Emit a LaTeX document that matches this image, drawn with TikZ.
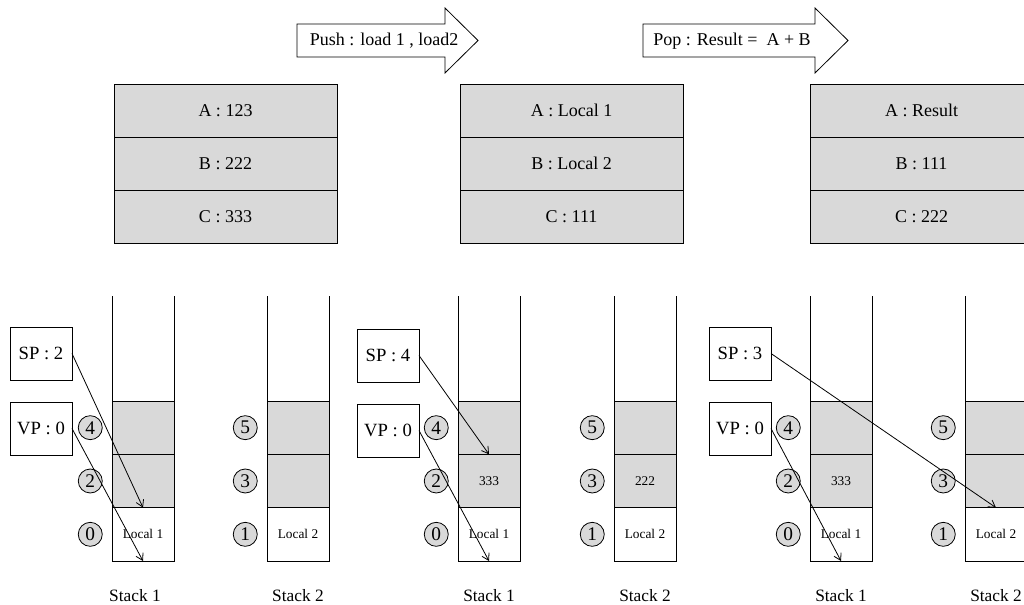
\documentclass[tikz,border=0pt]{standalone}
\usepackage{fontspec}
\setmainfont{Liberation Serif}
\usetikzlibrary{
    arrows.meta,
    positioning
}
\tikzset{
    % Colors
    cell color/.style={fill=black!15},
    %
    % Registers and stack slots
    register/.style={draw,cell color,minimum width=167.25pt,minimum height=39.75pt,
        inner sep=0pt,outer sep=0pt,font=\fontsize{13.5}{15}\selectfont},
    slot/.style={draw,cell color,minimum width=46.5pt,minimum height=40pt,
        inner sep=0pt,outer sep=0pt,font=\fontsize{10}{12}\selectfont},
    empty slot/.style={slot,fill=white},
    index/.style={circle,draw,cell color,minimum size=18pt,inner sep=0pt,
        font=\fontsize{14.5}{16}\selectfont},
    pointer/.style={draw,fill=white,minimum width=46.5pt,minimum height=39.75pt,
        inner sep=0pt,outer sep=0pt,font=\fontsize{14}{16}\selectfont},
    stack label/.style={font=\fontsize{13}{15}\selectfont},
    %
    % Arrows
    arrow tip/.tip={Straight Barb[length=5pt,width=6pt]},
    arr/.style={->,>={arrow tip}},
    op arrow/.style={draw,fill=white},
    op text/.style={font=\fontsize{13.5}{15}\selectfont}
}

\begin{document}
\begin{tikzpicture}[x=0.75pt,y=-0.75pt,line width=0.6pt]
    \useasboundingbox (0,0) rectangle (1024,605);
    \clip (0,0) rectangle (1024,605);

    % operations
    \draw[op arrow] (297,24) -- (445,24) -- (445,8) -- (478,40.5) -- (445,73) -- (445,57) -- (297,57) -- cycle;
    \node[op text] (push) at (384,41) {Push : load 1 , load2};
    \draw[op arrow] (643,24) -- (815,24) -- (815,8) -- (848,40.5) -- (815,73) -- (815,57) -- (643,57) -- cycle;
    \node[op text] (pop) at (732,41) {Pop : Result =~ A + B};

    % registers
    \node[register,anchor=north west] (p1A) at (114,84) {A : 123};
    \node[register,below=0pt of p1A] (p1B) {B : 222};
    \node[register,below=0pt of p1B] (p1C) {C : 333};
    \node[register,anchor=north west] (p2A) at (460,84) {A : Local 1};
    \node[register,below=0pt of p2A] (p2B) {B : Local 2};
    \node[register,below=0pt of p2B] (p2C) {C : 111};
    \node[register,anchor=north west] (p3A) at (810,84) {A : Result};
    \node[register,below=0pt of p3A] (p3B) {B : 111};
    \node[register,below=0pt of p3B] (p3C) {C : 222};

    % stacks, first state
    \node[slot,anchor=north west] (p1s1top) at (112,401) {};
    \node[slot,below=0pt of p1s1top] (p1s1mid) {};
    \node[empty slot,below=0pt of p1s1mid] (p1s1bot) {Local 1};
    \draw (p1s1top.north west) -- +(0,-105) (p1s1top.north east) -- +(0,-105);
    \node[index,left=7pt of p1s1top] (p1i4) {4};
    \node[index,left=7pt of p1s1mid] (p1i2) {2};
    \node[index,left=7pt of p1s1bot] (p1i0) {0};
    \node[stack label,below=18pt of p1s1bot,xshift=-6pt] (p1l1) {Stack 1};

    \node[slot,anchor=north west] (p1s2top) at (267,401) {};
    \node[slot,below=0pt of p1s2top] (p1s2mid) {};
    \node[empty slot,below=0pt of p1s2mid] (p1s2bot) {Local 2};
    \draw (p1s2top.north west) -- +(0,-105) (p1s2top.north east) -- +(0,-105);
    \node[index,left=7pt of p1s2top] (p1i5) {5};
    \node[index,left=7pt of p1s2mid] (p1i3) {3};
    \node[index,left=7pt of p1s2bot] (p1i1) {1};
    \node[stack label,below=18pt of p1s2bot] (p1l2) {Stack 2};

    \node[pointer,anchor=north west] (p1sp) at (10,327) {SP : 2};
    \node[pointer,below=16.5pt of p1sp] (p1vp) {VP : 0};
    \draw[arr] (p1sp.east) -- (p1s1mid.south);
    \draw[arr] (p1vp.east) -- (p1s1bot.south);

    % stacks, after push
    \node[slot,anchor=north west] (p2s1top) at (458,401) {};
    \node[slot,below=0pt of p2s1top] (p2s1mid) {333};
    \node[empty slot,below=0pt of p2s1mid] (p2s1bot) {Local 1};
    \draw (p2s1top.north west) -- +(0,-105) (p2s1top.north east) -- +(0,-105);
    \node[index,left=7pt of p2s1top] (p2i4) {4};
    \node[index,left=7pt of p2s1mid] (p2i2) {2};
    \node[index,left=7pt of p2s1bot] (p2i0) {0};
    \node[stack label,below=18pt of p2s1bot] (p2l1) {Stack 1};

    \node[slot,anchor=north west] (p2s2top) at (614,401) {};
    \node[slot,below=0pt of p2s2top] (p2s2mid) {222};
    \node[empty slot,below=0pt of p2s2mid] (p2s2bot) {Local 2};
    \draw (p2s2top.north west) -- +(0,-105) (p2s2top.north east) -- +(0,-105);
    \node[index,left=7pt of p2s2top] (p2i5) {5};
    \node[index,left=7pt of p2s2mid] (p2i3) {3};
    \node[index,left=7pt of p2s2bot] (p2i1) {1};
    \node[stack label,below=18pt of p2s2bot] (p2l2) {Stack 2};

    \node[pointer,anchor=north west] (p2sp) at (357,329) {SP : 4};
    \node[pointer,below=16.5pt of p2sp] (p2vp) {VP : 0};
    \draw[arr] (p2sp.east) -- (p2s1top.south);
    \draw[arr] (p2vp.east) -- (p2s1bot.south);

    % stacks, after pop
    \node[slot,anchor=north west] (p3s1top) at (810,401) {};
    \node[slot,below=0pt of p3s1top] (p3s1mid) {333};
    \node[empty slot,below=0pt of p3s1mid] (p3s1bot) {Local 1};
    \draw (p3s1top.north west) -- +(0,-105) (p3s1top.north east) -- +(0,-105);
    \node[index,left=7pt of p3s1top] (p3i4) {4};
    \node[index,left=7pt of p3s1mid] (p3i2) {2};
    \node[index,left=7pt of p3s1bot] (p3i0) {0};
    \node[stack label,below=18pt of p3s1bot] (p3l1) {Stack 1};

    \node[slot,anchor=north west] (p3s2top) at (965,401) {};
    \node[slot,below=0pt of p3s2top] (p3s2mid) {};
    \node[empty slot,below=0pt of p3s2mid] (p3s2bot) {Local 2};
    \draw (p3s2top.north west) -- +(0,-105) (p3s2top.north east) -- +(0,-105);
    \node[index,left=7pt of p3s2top] (p3i5) {5};
    \node[index,left=7pt of p3s2mid] (p3i3) {3};
    \node[index,left=7pt of p3s2bot] (p3i1) {1};
    \node[stack label,below=18pt of p3s2bot] (p3l2) {Stack 2};

    \node[pointer,anchor=north west] (p3sp) at (709,327) {SP : 3};
    \node[pointer,below=16.5pt of p3sp] (p3vp) {VP : 0};
    \draw[arr] (p3sp.east) -- (p3s2mid.south);
    \draw[arr] (p3vp.east) -- (p3s1bot.south);
\end{tikzpicture}
\end{document}
